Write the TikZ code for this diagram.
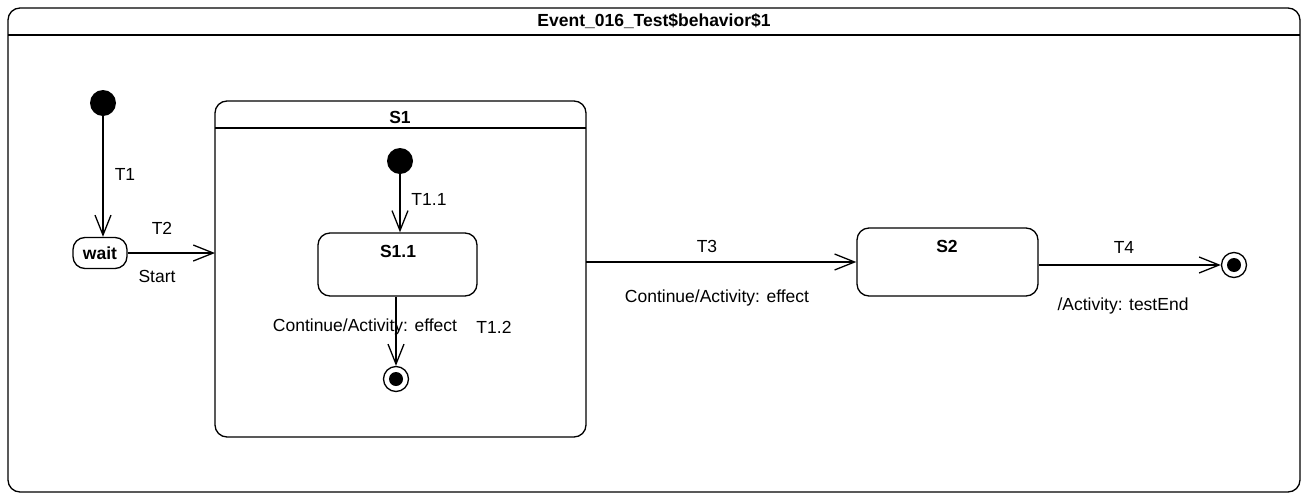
\documentclass[tikz,border=0pt]{standalone}
\usepackage{fontspec}
\setmainfont{Liberation Sans}
\usetikzlibrary{arrows.meta}
\begin{document}
\begin{tikzpicture}[x=1pt,y=-1pt,
  lw/.style={line width=1.3pt},
  state/.style={lw,draw,rounded corners=12pt},
  trans/.style={lw,draw,-{Straight Barb[length=20pt,width=16pt,line width=1.3pt]}},
  lbl/.style={font=\fontsize{17.5}{21}\selectfont,inner sep=0pt},
  blbl/.style={font=\fontsize{17.5}{21}\selectfont\bfseries,inner sep=0pt},
  initial/.style={circle,fill=black,minimum size=26pt,inner sep=0pt},
  final/.style={circle,draw,lw,minimum size=25pt,inner sep=0pt,path picture={\fill (path picture bounding box.center) circle (7pt);}}
]
\useasboundingbox (0,0) rectangle (1302,493);
\clip (0,0) rectangle (1302,493);
% outer frame
\draw[state] (8,8) rectangle (1300,492);
\draw[lw] (8,35) -- (1300,35);
\node[blbl] (title) at (654,21) {Event\_016\_Test\$behavior\$1};

% initial and wait
\node[initial] (i0) at (103,103) {};
\node[state,minimum width=54pt,minimum height=31pt,inner sep=0pt,rounded corners=12pt] (wait) at (100,253) {};
\node[blbl] at (wait.center) {wait};
\draw[trans] (i0) -- (wait.north -| i0);
\node[lbl] (t1) at (125,174) {T1};

% S1 composite
\draw[state] (215,101) rectangle (586,437);
\coordinate (s1w) at (215,253);
\coordinate (s1e) at (586,262);
\draw[lw] (215,128) -- (586,128);
\node[blbl] (s1) at (400,117) {S1};
\draw[trans] (wait.east) -- (s1w);
\node[lbl] (t2) at (162,228) {T2};
\node[lbl] (start) at (157,276) {Start};

% inside S1
\node[initial] (i1) at (400,161) {};
\node[state,minimum width=159pt,minimum height=63pt,inner sep=0pt] (s11) at (397.5,264.5) {};
\node[blbl] at (398,251) {S1.1};
\draw[trans] (i1) -- (s11.north -| i1);
\node[lbl] (t11) at (429,199) {T1.1};
\node[final] (f1) at (396,379) {};
\draw[trans] (s11.south -| f1) -- (f1);
\node[lbl] (c1) at (365,327) {Continue/Activity: effect};
\node[lbl] (t12) at (494,327) {T1.2};

% S2
\node[state,minimum width=181pt,minimum height=68pt,inner sep=0pt] (s2) at (947.5,262) {};
\node[blbl] at (947,246) {S2};
\draw[trans] (s1e) -- (s2.west);
\node[lbl] (t3) at (707,246) {T3};
\node[lbl] (c3) at (717,298) {Continue/Activity: effect};

% final
\node[final] (f2) at (1234,265) {};
\draw[trans] (s2.east |- f2) -- (f2);
\node[lbl] (t4) at (1124,247) {T4};
\node[lbl] (c4) at (1123,306) {/Activity: testEnd};
\end{tikzpicture}
\end{document}
